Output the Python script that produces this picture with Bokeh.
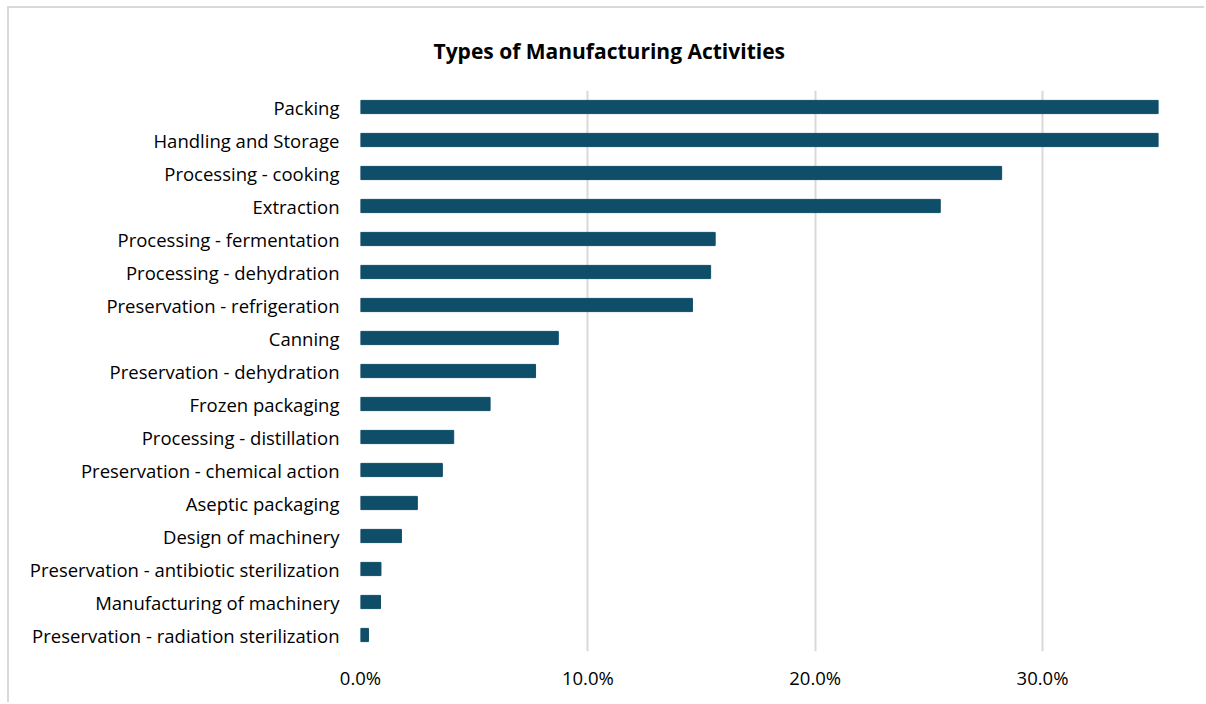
from bokeh.plotting import figure
from bokeh.models import FixedTicker, NumeralTickFormatter, Range1d
from bokeh.embed import file_html
from bokeh.resources import INLINE

title_text = "Types of Manufacturing Activities"
categories = [
    "Packing", "Handling and Storage", "Processing - cooking", "Extraction",
    "Processing - fermentation", "Processing - dehydration",
    "Preservation - refrigeration", "Canning", "Preservation - dehydration",
    "Frozen packaging", "Processing - distillation",
    "Preservation - chemical action", "Aseptic packaging",
    "Design of machinery", "Preservation - antibiotic sterilization",
    "Manufacturing of machinery", "Preservation - radiation sterilization",
]
values = [0.351, 0.351, 0.282, 0.255, 0.156, 0.154, 0.146, 0.087, 0.077,
          0.057, 0.041, 0.036, 0.025, 0.018, 0.009, 0.0088, 0.0035]
tick_values = [0.0, 0.1, 0.2, 0.3]

FONT = "Open Sans"

p = figure(width=1197, height=696, output_backend="svg", toolbar_location=None,
           y_range=list(reversed(categories)), x_range=Range1d(0, 0.351),
           min_border_left=351, min_border_right=48, min_border_top=82,
           min_border_bottom=53)

p.hbar(y=categories, right=values, left=0, height=0.4, color="#0f4e69")

p.title.text = title_text
p.title.text_font = FONT
p.title.text_font_size = "21px"
p.title.text_font_style = "bold"
p.title.text_color = "#000000"
p.title.align = "left"
p.title.offset = 73
p.title.standoff = 52

p.xaxis.ticker = FixedTicker(ticks=tick_values)
p.xaxis.formatter = NumeralTickFormatter(format="0.0%")
p.xaxis.axis_line_color = None
p.xaxis.major_tick_line_color = None
p.xaxis.minor_tick_line_color = None
p.xaxis.major_label_text_font = FONT
p.xaxis.major_label_text_font_size = "18.5px"
p.xaxis.major_label_text_color = "#000000"
p.xaxis.major_label_standoff = 7

p.yaxis.axis_line_color = None
p.yaxis.major_tick_line_color = None
p.yaxis.minor_tick_line_color = None
p.yaxis.major_label_text_font = FONT
p.yaxis.major_label_text_font_size = "18.5px"
p.yaxis.major_label_text_color = "#000000"
p.yaxis.major_label_standoff = 15

p.xgrid.ticker = FixedTicker(ticks=tick_values)
p.xgrid.grid_line_color = "#d9d9d9"
p.xgrid.grid_line_width = 2
p.ygrid.grid_line_color = None
p.outline_line_color = None
p.styles = {"border-top": "2px solid #d9d9d9", "border-left": "2px solid #d9d9d9",
            "margin-left": "7px", "margin-top": "6px"}

open("out.html", "w").write(file_html(p, INLINE))
